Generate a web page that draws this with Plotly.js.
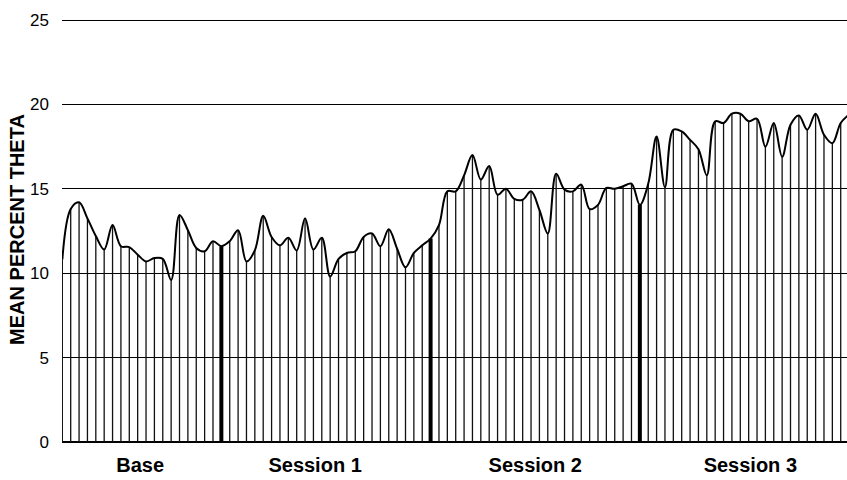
<!DOCTYPE html>
<html>
<head>
<meta charset="utf-8">
<script src="https://cdn.plot.ly/plotly-3.0.1.min.js"></script>
<style>html,body{margin:0;padding:0;background:#fff;}#chart{width:847px;height:480px;}</style>
</head>
<body>
<div id="chart"></div>
<script>
// Mean percent theta per recording epoch (index)
const theta = [
  10.8, 13.8, 14.2, 13.25, 12.2, 11.4, 12.85, 11.6, 11.55, 11.1,
  10.7, 10.9, 10.85, 9.6, 13.45, 12.55, 11.5, 11.3, 11.9, 11.6,
  11.9, 12.55, 10.7, 11.35, 13.4, 12.15, 11.65, 12.1, 11.35, 13.25,
  11.4, 12.1, 9.8, 10.85, 11.2, 11.3, 12.15, 12.35, 11.6, 12.6,
  11.45, 10.35, 11.2, 11.65, 12.05, 12.85, 14.85, 14.85, 15.8, 17.0,
  15.55, 16.35, 14.65, 15.0, 14.4, 14.35, 14.85, 13.75, 12.35, 15.9,
  14.95, 14.85, 15.25, 13.8, 14.05, 15.05, 15.0, 15.15, 15.3, 14.05,
  15.3, 18.1, 15.1, 18.5, 18.4, 17.9, 17.35, 15.8, 19.0, 18.9,
  19.45, 19.45, 19.0, 19.15, 17.5, 18.9, 16.9, 18.8, 19.35, 18.5,
  19.45, 18.2, 17.7, 18.9, 19.4
];
const epoch = theta.map((_, i) => i);
// epochs where one phase ends and the next begins
const boundaries = [19, 44, 69];
// phase labels and where they sit along the epoch axis
const phaseLabels = ['Base', 'Session 1', 'Session 2', 'Session 3'];
const phaseLabelPos = [9.3, 30.2, 56.5, 82.2];
const yTicks = [0, 5, 10, 15, 20, 25];

// drop lines from the baseline up to each value
function dropLines(filterFn) {
  const xs = [], ys = [];
  epoch.forEach(i => {
    if (filterFn(i)) { xs.push(i, i, null); ys.push(0, theta[i], null); }
  });
  return {xs, ys};
}
const thin = dropLines(i => !boundaries.includes(i));
const thick = dropLines(i => boundaries.includes(i));

const traces = [
  {
    type: 'scatter', mode: 'lines', x: thin.xs, y: thin.ys,
    line: {color: '#111', width: 1.3}, connectgaps: false, hoverinfo: 'skip'
  },
  {
    type: 'scatter', mode: 'lines', x: thick.xs, y: thick.ys,
    line: {color: '#000', width: 4}, connectgaps: false, hoverinfo: 'skip'
  },
  {
    type: 'scatter', mode: 'lines', x: epoch, y: theta,
    line: {shape: 'spline', smoothing: 1, color: '#000', width: 2},
    hoverinfo: 'skip'
  }
];

const layout = {
  width: 847,
  height: 480,
  margin: {l: 62, r: 0, t: 17, b: 38},
  paper_bgcolor: '#fff',
  plot_bgcolor: '#fff',
  showlegend: false,
  font: {family: '"Liberation Sans", Arial, sans-serif', color: '#000'},
  xaxis: {
    range: [-0.04, 93.75],
    showgrid: false,
    zeroline: false,
    showline: false,
    tickmode: 'array',
    tickvals: phaseLabelPos,
    ticktext: phaseLabels,
    ticks: '',
    ticklabelstandoff: 9,
    tickfont: {size: 20, weight: 'bold', color: '#000'},
    automargin: false
  },
  yaxis: {
    range: [0, 25.18],
    tickmode: 'array',
    tickvals: yTicks,
    showgrid: true,
    gridcolor: '#000',
    gridwidth: 1,
    zeroline: true,
    zerolinecolor: '#000',
    zerolinewidth: 1.5,
    showline: false,
    ticks: '',
    ticklabelstandoff: 12,
    tickfont: {size: 17, color: '#000'},
    title: {text: 'MEAN PERCENT THETA', font: {size: 20, weight: 'bold', color: '#000'}, standoff: 0},
    automargin: false
  }
};

Plotly.newPlot('chart', traces, layout, {staticPlot: true, displayModeBar: false});
</script>
</body>
</html>
